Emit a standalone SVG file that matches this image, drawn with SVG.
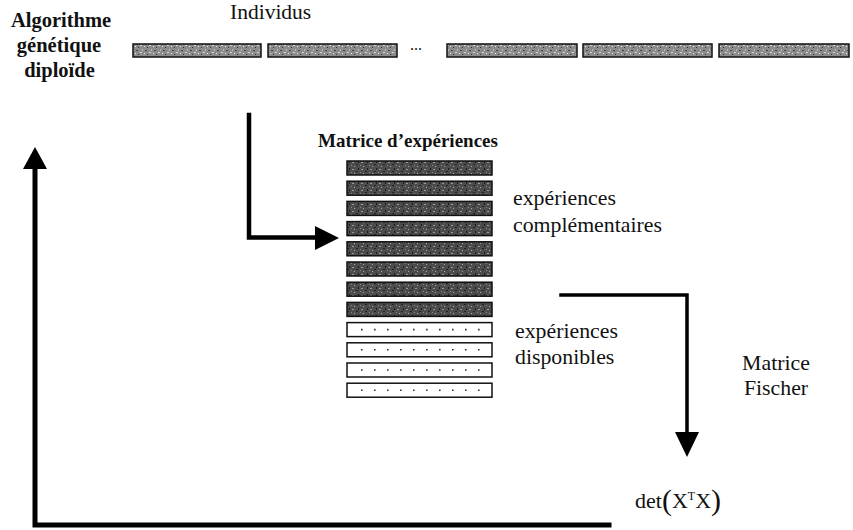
<svg xmlns="http://www.w3.org/2000/svg" width="853" height="530" viewBox="0 0 853 530">
<style>
text{font-family:'Liberation Serif','DejaVu Serif',serif;fill:#111}
.b{font-weight:bold}
.ind{fill:url(#gray);stroke:#111;stroke-width:1.5}
.dk{fill:url(#dark);stroke:#111;stroke-width:1.5}
.lt{fill:#fff;stroke:#111;stroke-width:1.5}
.dots{stroke:#333;stroke-width:1.6;stroke-dasharray:1.6 11.4}
.ln{fill:none;stroke:#000;stroke-linejoin:miter;stroke-linecap:square}
</style>
<defs>
<pattern id="gray" width="9" height="7" patternUnits="userSpaceOnUse">
<rect width="9" height="7" fill="#8c8c8c"/>
<rect x="1" y="1" width="2" height="1" fill="#444"/>
<rect x="5" y="3" width="2" height="1" fill="#d8d8d8"/>
<rect x="3" y="5" width="1" height="1" fill="#333"/>
<rect x="7" y="0" width="1" height="2" fill="#bbb"/>
<rect x="0" y="4" width="1" height="1" fill="#eee"/>
</pattern>
<pattern id="dark" width="9" height="7" patternUnits="userSpaceOnUse">
<rect width="9" height="7" fill="#4c4c4c"/>
<rect x="1" y="1" width="2" height="1" fill="#999"/>
<rect x="5" y="3" width="2" height="1" fill="#222"/>
<rect x="3" y="5" width="1" height="1" fill="#aaa"/>
<rect x="7" y="0" width="1" height="2" fill="#1a1a1a"/>
<rect x="0" y="4" width="1" height="1" fill="#888"/>
</pattern>
</defs>

<g id="title">
<text class="b" x="61" y="27" font-size="20.5" text-anchor="middle">Algorithme</text>
<text class="b" x="59" y="52" font-size="20.5" text-anchor="middle">génétique</text>
<text class="b" x="59.5" y="77" font-size="20.5" text-anchor="middle">diploïde</text>
</g>

<g id="individus">
<text x="230" y="19" font-size="21.5">Individus</text>
<rect class="ind" x="133" y="44" width="128" height="13"/>
<rect class="ind" x="268" y="44" width="129" height="13"/>
<text x="410" y="50" font-size="16">...</text>
<rect class="ind" x="447" y="44" width="130" height="13"/>
<rect class="ind" x="583" y="44" width="129" height="13"/>
<rect class="ind" x="719" y="44" width="130" height="13"/>
</g>

<g id="matrice">
<text class="b" x="318" y="147" font-size="19">Matrice d’expériences</text>
<rect class="dk" x="347" y="161" width="145" height="14"/>
<rect class="dk" x="347" y="181.2" width="145" height="14"/>
<rect class="dk" x="347" y="201.4" width="145" height="14"/>
<rect class="dk" x="347" y="221.6" width="145" height="14"/>
<rect class="dk" x="347" y="241.8" width="145" height="14"/>
<rect class="dk" x="347" y="262" width="145" height="14"/>
<rect class="dk" x="347" y="282.2" width="145" height="14"/>
<rect class="dk" x="347" y="302.4" width="145" height="14"/>
<rect class="lt" x="347" y="322.6" width="145" height="14"/>
<rect class="lt" x="347" y="342.8" width="145" height="14"/>
<rect class="lt" x="347" y="363" width="145" height="14"/>
<rect class="lt" x="347" y="383.2" width="145" height="14"/>
<line class="dots" x1="361" y1="329.6" x2="490" y2="329.6"/>
<line class="dots" x1="361" y1="349.8" x2="490" y2="349.8"/>
<line class="dots" x1="361" y1="370" x2="490" y2="370"/>
<line class="dots" x1="361" y1="390.2" x2="490" y2="390.2"/>
</g>

<g id="complementaires">
<text x="513" y="205" font-size="21.8">expériences</text>
<text x="513" y="232" font-size="21.8">complémentaires</text>
</g>

<g id="disponibles">
<text x="515" y="338" font-size="21.8">expériences</text>
<text x="515" y="364" font-size="21.8">disponibles</text>
</g>

<g id="fischer">
<text x="776" y="370" font-size="21.8" text-anchor="middle">Matrice</text>
<text x="776" y="395" font-size="21.8" text-anchor="middle">Fischer</text>
</g>

<g id="det">
<text x="635" y="508" font-size="22">det<tspan font-size="30" dy="2">(</tspan><tspan font-size="22" dy="-2">X</tspan><tspan font-size="12" dy="-8">T</tspan><tspan font-size="22" dy="8">X</tspan><tspan font-size="30" dy="2">)</tspan></text>
</g>

<g id="connectors">
<polyline class="ln" stroke-width="4.5" points="249,115 249,237.5 317,237.5"/>
<polygon points="315,226 339,238 315,250" fill="#000"/>
<polyline class="ln" stroke-width="3.5" points="561,295 687,295 687,434"/>
<polygon points="675,432 699,432 687,457" fill="#000"/>
<polyline class="ln" stroke-width="5" points="35,168 35,525 609,525"/>
<polygon points="23,169 47,169 35,147" fill="#000"/>
</g>
</svg>
